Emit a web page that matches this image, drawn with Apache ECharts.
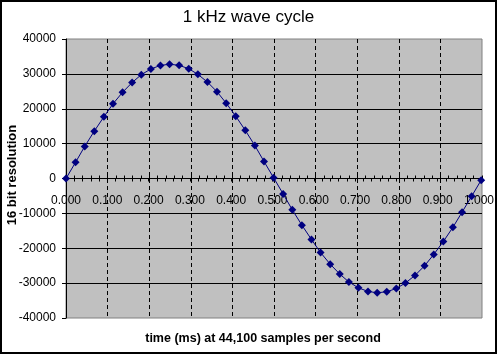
<!DOCTYPE html>
<html>
<head>
<meta charset="utf-8">
<script src="https://cdn.jsdelivr.net/npm/echarts@6/dist/echarts.min.js"></script>
<style>
  html, body { margin: 0; padding: 0; background: #fff; }
  #chart { width: 497px; height: 354px; }
</style>
</head>
<body>
<div id="chart"></div>
<script>
// sample times (ms) and 16 bit levels
var timeMs = [0.000, 0.023, 0.045, 0.068, 0.091, 0.113, 0.136, 0.159, 0.181, 0.204,
  0.227, 0.249, 0.272, 0.295, 0.317, 0.340, 0.363, 0.385, 0.408, 0.431,
  0.454, 0.476, 0.499, 0.522, 0.544, 0.567, 0.590, 0.612, 0.635, 0.658,
  0.680, 0.703, 0.726, 0.748, 0.771, 0.794, 0.816, 0.839, 0.862, 0.884,
  0.907, 0.930, 0.952, 0.975, 0.998];
var level = [0, 4650, 9210, 13580, 17680, 21420, 24720, 27520, 29770, 31410,
  32420, 32770, 32450, 31480, 29870, 27650, 24880, 21600, 17880, 13800,
  9440, 4880, 230, -4420, -8990, -13370, -17480, -21240, -24560, -27390,
  -29670, -31350, -32380, -32770, -32480, -31540, -29960, -27780, -25030, -21780,
  -18080, -14010, -9660, -5110, -470];
var xTicks = [0, 1, 0.1];        // min, max, step
var yTicks = [-40000, 40000, 10000];

var font = '"Liberation Sans", Arial, sans-serif';
var points = timeMs.map(function (t, i) { return [t, level[i]]; });

var chart = echarts.init(document.getElementById('chart'));

var plotTop = 39, plotBottom = 36, plotH = 354 - plotTop - plotBottom;
var zeroY = plotTop + plotH / 2;

var xBase = {
  type: 'value',
  min: xTicks[0],
  max: xTicks[1],
  interval: xTicks[2],
  position: 'bottom',
  minorTick: { show: true, splitNumber: 5, length: 3, lineStyle: { color: '#000' } }
};
var yBase = {
  type: 'value',
  min: yTicks[0],
  max: yTicks[1],
  interval: yTicks[2]
};

var option = {
  animation: false,
  backgroundColor: '#fff',
  title: {
    text: '1 kHz wave cycle',
    left: 'center',
    top: 4,
    textStyle: { fontFamily: font, fontSize: 17, fontWeight: 'normal', color: '#000' }
  },
  grid: [
    {
      left: 66, right: 15, top: plotTop, bottom: plotBottom,
      show: true,
      backgroundColor: '#c0c0c0',
      borderColor: '#808080',
      borderWidth: 1
    },
    // upper half only: its bottom edge is the zero line, carries the x labels
    { left: 66, right: 15, top: plotTop, bottom: 354 - zeroY, show: false }
  ],
  xAxis: [
    // on the zero line: upper half of the crossing ticks, plus dashed gridlines
    Object.assign({}, xBase, {
      gridIndex: 0,
      axisLine: { onZero: true, lineStyle: { color: '#000', width: 1 } },
      axisTick: { show: true, inside: true, length: 3, lineStyle: { color: '#000' } },
      axisLabel: { show: false },
      splitLine: {
        show: true, showMinLine: false, showMaxLine: false,
        lineStyle: { color: '#000', type: [4, 3], width: 1 }
      }
    }),
    // lower half of the ticks and the labels under the zero line
    Object.assign({}, xBase, {
      gridIndex: 1,
      axisLine: { onZero: false, lineStyle: { color: '#000', width: 1 } },
      axisTick: { show: true, length: 3, lineStyle: { color: '#000' } },
      axisLabel: {
        margin: 16,
        fontFamily: font, fontSize: 12, color: '#000',
        formatter: function (v) { return v.toFixed(3); }
      },
      splitLine: { show: false }
    })
  ],
  yAxis: [
    Object.assign({}, yBase, {
      gridIndex: 0,
      axisLine: { show: true, onZero: false, lineStyle: { color: '#000' } },
      axisTick: { show: true, length: 4, lineStyle: { color: '#000' } },
      axisLabel: {
        margin: 10,
        fontFamily: font, fontSize: 12, color: '#000',
        formatter: function (v) { return String(v); }
      },
      splitLine: {
        show: true, showMinLine: false, showMaxLine: false,
        lineStyle: { color: '#000', width: 1 }
      }
    }),
    {
      type: 'value',
      gridIndex: 1,
      min: 0,
      max: yTicks[1],
      axisLine: { show: false, onZero: false },
      axisTick: { show: false },
      axisLabel: { show: false },
      splitLine: { show: false }
    }
  ],
  graphic: [
    {
      type: 'rect', silent: true, z: 100,
      shape: { x: 1, y: 1, width: 495, height: 352 },
      style: { fill: null, stroke: '#000', lineWidth: 2 }
    },
    {
      type: 'text', x: 263, y: 339,
      style: {
        text: 'time (ms) at 44,100 samples per second',
        font: 'bold 12.5px ' + font, fill: '#000',
        align: 'center', verticalAlign: 'middle'
      }
    },
    {
      type: 'text', x: 12, y: 175, rotation: Math.PI / 2,
      style: {
        text: '16 bit resolution',
        font: 'bold 13px ' + font, fill: '#000',
        align: 'center', verticalAlign: 'middle'
      }
    }
  ],
  series: [{
    type: 'line',
    xAxisIndex: 0,
    yAxisIndex: 0,
    z: 5,
    data: points,
    symbol: 'diamond',
    symbolSize: 8,
    showAllSymbol: true,
    itemStyle: { color: '#000080' },
    lineStyle: { color: '#000080', width: 1 }
  }]
};

chart.setOption(option);
</script>
</body>
</html>
